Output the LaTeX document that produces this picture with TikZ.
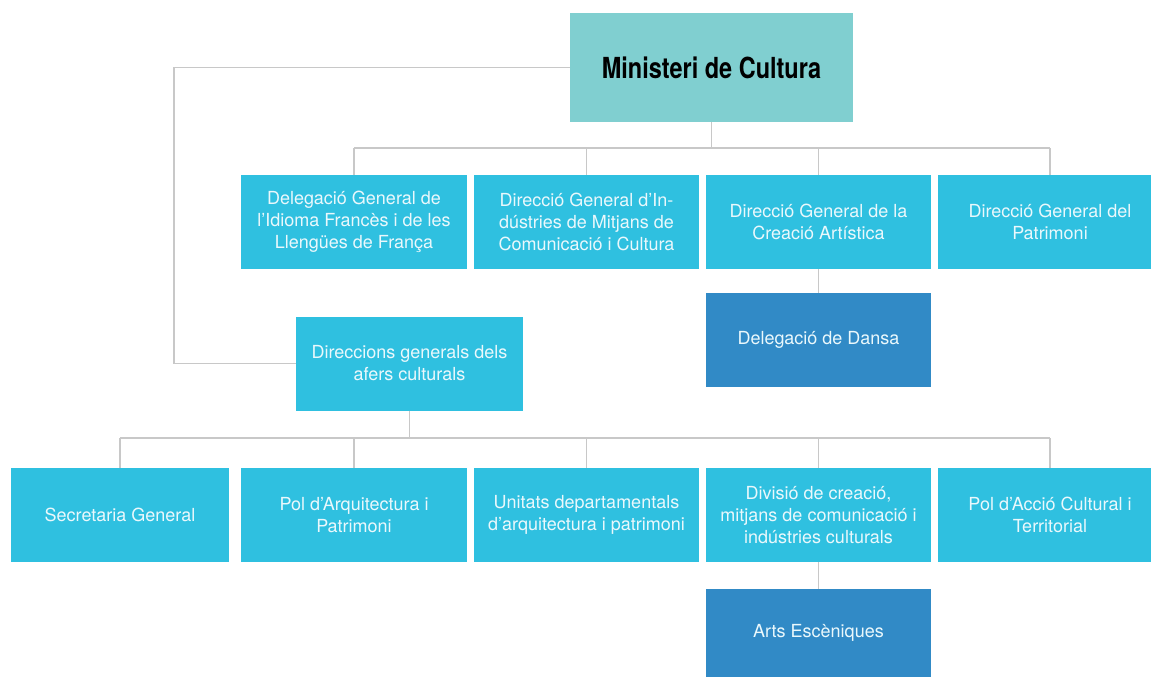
\documentclass[tikz,border=0pt]{standalone}
\usepackage{fontspec}
\setmainfont{TeX Gyre Heros}
\newfontfamily\titlefont[FakeStretch=0.81]{TeX Gyre Heros}
\definecolor{teal}{HTML}{80CFD0}
\definecolor{light}{HTML}{2FC0E0}
\definecolor{dark}{HTML}{318AC6}
\definecolor{wire}{HTML}{C8C8C8}
\definecolor{txt}{HTML}{EAF8FC}
\begin{document}
\begin{tikzpicture}[x=1pt,y=-1pt,
    unit/.style={fill=light,text=txt,align=center,inner sep=0pt,minimum width=225pt,minimum height=94pt,font=\fontsize{18}{22}\selectfont},
    sub/.style={unit,fill=dark},
    conn/.style={draw=wire,line width=1.2pt}]
                \useasboundingbox (0,0) rectangle (1151,677);
                \node[fill=teal,minimum width=283pt,minimum height=109pt,inner sep=0pt](MIN) at (711.5,67.5) {\titlefont\fontsize{29}{32}\selectfont\bfseries Ministeri de Cultura};
                \node[unit,minimum width=226pt](DGLF) at (354,222) {Delegació General de\\l’Idioma Francès i de les\\Llengües de França};
                \node[unit](DGMC) at (586.5,222) {Direcció General d’In-\\dústries de Mitjans de\\Comunicació i Cultura};
                \node[unit](DGCA) at (818.5,222) {Direcció General de la\\Creació Artística};
                \node[unit,minimum width=224pt](DGP) at (1050,222) {Direcció General del\\Patrimoni};
                \node[sub](DANSA) at (818.5,340) {Delegació de Dansa};
                \node[unit,minimum width=227pt](DGAC) at (409.5,363.5) {Direccions generals dels\\afers culturals};
                \node[unit,minimum width=218pt](SG) at (120,515) {Secretaria General};
                \node[unit,minimum width=226pt](PAP) at (354,515) {Pol d’Arquitectura i\\Patrimoni};
                \node[unit](UDAP) at (586.5,515) {Unitats departamentals\\d’arquitectura i patrimoni};
                \node[unit](DCMC) at (818.5,515) {Divisió de creació,\\mitjans de comunicació i\\indústries culturals};
                \node[unit,minimum width=224pt](PACT) at (1050,515) {Pol d’Acció Cultural i\\Territorial};
                \node[sub,minimum height=88pt](ARTS) at (818.5,633) {Arts Escèniques};
                % connectors
                \coordinate (TOP) at (0,148);
                \coordinate (LOW) at (0,438);
                \coordinate (LEFT) at (174,67.5);
                \draw[conn] (MIN.west) -- (LEFT) |- (DGAC.west);
                \draw[conn] (MIN.south) -- (MIN.south |- TOP);
                \draw[conn] (DGLF.north |- TOP) -- (DGP.north |- TOP);
                \foreach \n in {DGLF,DGMC,DGCA,DGP}
                    \draw[conn] (\n.north) -- (\n.north |- TOP);
                \draw[conn] (DGCA.south) -- (DANSA.north);
                \draw[conn] (DGAC.south) -- (DGAC.south |- LOW);
                \draw[conn] (SG.north |- LOW) -- (PACT.north |- LOW);
                \foreach \n in {SG,PAP,UDAP,DCMC,PACT}
                    \draw[conn] (\n.north) -- (\n.north |- LOW);
                \draw[conn] (DCMC.south) -- (ARTS.north);
            \end{tikzpicture}
\end{document}
